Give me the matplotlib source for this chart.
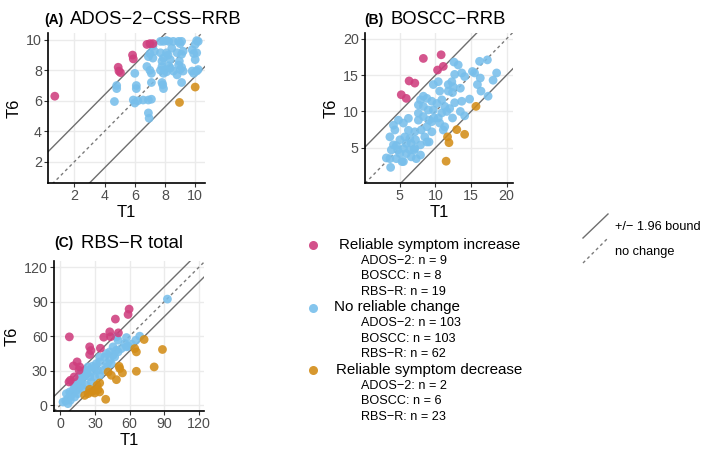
import matplotlib
matplotlib.use("Agg")
import matplotlib.pyplot as plt
from matplotlib.lines import Line2D
import numpy as np

plt.rcParams['font.family'] = ['Liberation Sans', 'DejaVu Sans']

W, H = 709, 449

# colours
col_inc = '#CF3E7E'
col_none = '#78BFEB'
col_dec = '#D38D18'

# ---- (A) ADOS-2-CSS-RRB
a_inc = [(0.7, 6.3), (6.8, 9.7), (7.0, 9.75), (7.2, 9.75), (5.85, 9.0), (5.9, 8.75),
         (4.9, 8.2), (4.95, 7.95), (5.05, 7.85)]
a_dec = [(8.96, 5.89), (10.0, 6.9)]
a_none = [(4.8, 7.0), (4.8, 6.8), (4.65, 5.95),
          (6.0, 7.8), (6.1, 7.0), (6.1, 6.8), (5.9, 6.05), (6.0, 5.85), (6.2, 6.0), (6.55, 6.05),
          (6.9, 6.05), (7.1, 6.1), (6.9, 5.2), (6.95, 4.85),
          (7.1, 7.2), (7.8, 7.2), (7.9, 6.8), (7.85, 7.05), (9.1, 7.2),
          (6.8, 8.25), (7.0, 8.0), (7.1, 7.8), (7.2, 8.8), (7.3, 9.25), (7.0, 9.1), (6.9, 8.9), (7.2, 9.6),
          (7.7, 9.9), (7.9, 9.9), (8.1, 9.95), (8.25, 9.9), (8.55, 9.9), (8.45, 9.45),
          (7.7, 9.15), (7.9, 8.8), (8.1, 9.15), (8.35, 8.7), (8.2, 9.0), (7.8, 8.6),
          (8.0, 8.05), (7.8, 8.25), (8.35, 8.15), (8.55, 7.95), (7.9, 7.8), (8.1, 7.9), (8.25, 8.3), (7.7, 8.0),
          (8.9, 9.9), (9.1, 9.9), (9.0, 9.75), (8.8, 9.15), (9.1, 9.05), (9.2, 9.25), (8.9, 8.35), (9.0, 8.05),
          (9.2, 7.95), (8.8, 7.7), (9.1, 8.2), (8.95, 8.6),
          (9.8, 9.35), (10.1, 9.15), (10.2, 9.9), (10.0, 9.7), (10.0, 8.7), (9.8, 7.95), (10.1, 7.95),
          (10.2, 8.05), (9.9, 7.8), (9.9, 9.1), (10.1, 9.95)]
a_bound = 2.4

# ---- (B) BOSCC-RRB
b_inc = [(8.3, 17.3), (10.8, 17.8), (10.3, 15.7), (11.1, 16.2), (6.3, 14.2), (7.1, 13.9),
         (5.2, 12.3), (5.9, 11.8)]
b_dec = [(15.7, 10.7), (13.0, 7.5), (14.1, 6.85), (11.7, 6.5), (11.9, 5.7), (11.5, 3.15)]
b_none = [(12.6, 16.8), (13.2, 16.4), (16.2, 16.9), (17.3, 17.1), (12.7, 15.1), (13.7, 15.3), (14.1, 14.8),
          (15.2, 15.5), (15.5, 15.3), (16.3, 14.6), (18.6, 15.3), (18.1, 14.3), (12.3, 14.1), (11.8, 13.7),
          (10.4, 14.1), (9.7, 13.7), (12.5, 13.4), (13.5, 13.2), (11.8, 12.8), (12.4, 12.6), (15.9, 13.7),
          (16.4, 12.8), (17.4, 12.1), (10.6, 12.8), (8.3, 12.1), (8.8, 11.8), (7.9, 11.6), (9.5, 11.4),
          (10.9, 11.6), (10.2, 11.1), (11.3, 10.7), (12.0, 10.4), (12.7, 11.2), (13.7, 11.4), (14.8, 11.7),
          (13.5, 10.0), (14.1, 9.4), (12.4, 9.1), (11.6, 10.0), (10.9, 9.8), (9.7, 10.2), (9.0, 10.2),
          (8.3, 10.7), (7.6, 10.9), (7.6, 9.75), (8.3, 9.3), (9.8, 9.1), (9.1, 8.8), (10.4, 9.1), (11.3, 7.9),
          (11.1, 7.45), (7.6, 8.8), (6.2, 9.05), (5.5, 8.4), (4.8, 8.8), (4.1, 8.1), (4.3, 7.45), (3.6, 6.5),
          (4.1, 5.4), (3.6, 3.5), (3.1, 3.6), (3.7, 2.3), (4.5, 3.5), (5.5, 3.1), (5.0, 4.2), (5.5, 4.9),
          (5.9, 5.6), (6.4, 6.3), (6.2, 7.4), (7.1, 7.2), (8.0, 7.45), (8.5, 6.5), (8.8, 5.8), (7.9, 5.4),
          (7.1, 4.9), (6.4, 4.7), (5.9, 4.2), (6.6, 3.75), (7.3, 3.5), (5.3, 3.1), (9.1, 5.8), (8.8, 7.9),
          (9.5, 7.2), (5.7, 6.5), (5.0, 6.1), (4.5, 5.3), (3.8, 4.7), (4.7, 4.7), (7.0, 4.7), (7.9, 4.0),
          (9.5, 8.6), (10.6, 8.4), (6.6, 5.6), (7.2, 6.1)]
b_bound = 5.0

# ---- (C) RBS-R total
c_inc = [(7.8, 59.4), (59.6, 83.6), (58.7, 78.9), (47.7, 74.9), (50.3, 62.9), (42.8, 63.8), (43.5, 59.5),
         (37.6, 59.1), (34.7, 49.5), (25.4, 50.7), (26.5, 47.5), (25.4, 44.0), (14.5, 37.6), (11.3, 34.1),
         (16.8, 33.2), (16.2, 30.3), (8.7, 21.6), (7.5, 20.1), (12.0, 24.5)]
c_dec = [(72.6, 57.1), (64.5, 49.2), (65.9, 46.3), (88.5, 48.4), (81.3, 33.2), (65.9, 29.4), (41.4, 28.8),
         (44.2, 25.9), (50.9, 33.8), (51.5, 31.8), (53.8, 28.0), (48.6, 22.1), (34.1, 19.2), (31.8, 17.2),
         (29.2, 12.8), (29.8, 10.5), (25.4, 13.7), (24.0, 9.9), (21.1, 8.4), (39.3, 5.0), (32.7, 13.4),
         (34.1, 11.4), (26.9, 11.4)]
c_none = [(92.8, 92.3), (68.8, 60.0), (65.4, 56.5), (57.3, 58.8), (55.8, 53.6), (58.7, 51.3), (48.6, 59.4),
          (50.0, 56.5), (45.7, 50.7), (42.8, 46.3), (39.9, 44.9), (38.5, 41.9), (45.7, 43.4), (47.1, 41.9),
          (42.8, 39.0), (40.8, 36.1), (34.1, 37.6), (31.2, 36.1), (27.8, 33.8), (24.0, 33.2), (29.8, 31.8),
          (32.7, 30.3), (26.9, 28.8), (23.1, 27.4), (21.1, 25.1), (19.1, 23.0), (16.8, 24.5), (14.5, 20.1),
          (18.2, 18.6), (15.3, 17.2), (12.4, 15.7), (11.0, 12.8), (8.1, 11.4), (5.2, 9.9), (9.5, 8.4),
          (6.6, 5.5), (4.6, 3.5), (8.7, 4.1), (12.4, 7.0), (15.3, 9.9), (13.9, 12.8), (19.7, 14.3),
          (22.6, 17.2), (26.9, 20.1), (25.4, 24.5), (29.8, 24.5), (34.1, 25.9), (37.0, 30.3), (39.9, 33.2),
          (44.2, 36.1), (50.0, 46.3), (52.9, 49.2), (57.3, 50.7), (61.7, 53.0), (48.6, 47.8), (34.1, 41.9),
          (22.6, 30.3), (18.2, 28.8), (16.8, 15.7), (11.0, 19.2), (2.3, 2.6), (6.6, 1.2)]
c_bound = 13.0

panels = [
    dict(pos=(48, 33, 205, 183), lim_x=(0.25, 10.65), lim_y=(0.6, 10.45), ticks=[2, 4, 6, 8, 10],
         inc=a_inc, none=a_none, dec=a_dec, bound=a_bound, tag='(A)', name='ADOS\u22122\u2212CSS\u2212RRB',
         tag_x=44, name_x=70, title_y=20),
    dict(pos=(365, 33, 513, 183), lim_x=(0.1, 20.9), lim_y=(0.15, 20.8), ticks=[5, 10, 15, 20],
         inc=b_inc, none=b_none, dec=b_dec, bound=b_bound, tag='(B)', name='BOSCC\u2212RRB',
         tag_x=364, name_x=390, title_y=20),
    dict(pos=(54, 261, 204, 411), lim_x=(-5.5, 124.5), lim_y=(-5.2, 125.5), ticks=[0, 30, 60, 90, 120],
         inc=c_inc, none=c_none, dec=c_dec, bound=c_bound, tag='(C)', name='RBS\u2212R total',
         tag_x=54, name_x=81, title_y=243),
]

fig = plt.figure(figsize=(W / 100, H / 100), dpi=100)


def fx(x):
    return x / W


def fy(y):
    return 1 - y / H


for p in panels:
    l, t, r, b = p['pos']
    ax = fig.add_axes([fx(l), fy(b), (r - l) / W, (b - t) / H])
    ax.set_xlim(*p['lim_x'])
    ax.set_ylim(*p['lim_y'])
    ax.set_xticks(p['ticks'])
    ax.set_yticks(p['ticks'])
    ax.grid(True, color='#EBEBEB', lw=1.0, zorder=0)
    ax.set_axisbelow(True)
    for s in ['top', 'right']:
        ax.spines[s].set_visible(False)
    for s in ['left', 'bottom']:
        ax.spines[s].set_linewidth(1.2)
        ax.spines[s].set_color('black')
    ax.tick_params(length=3, width=0.8, color='#333333', labelcolor='#4D4D4D', labelsize=10.3, pad=1.5)

    xs = np.array(p['lim_x'])
    c = p['bound']
    ax.plot(xs, xs + c, color='#6E6E6E', lw=1.0, zorder=2)
    ax.plot(xs, xs - c, color='#6E6E6E', lw=1.0, zorder=2)
    ax.plot(xs, xs, color='#7A7A7A', lw=1.0, ls=(0, (2.2, 2.2)), zorder=2)

    for pts, col in [(p['none'], col_none), (p['inc'], col_inc), (p['dec'], col_dec)]:
        arr = np.array(pts)
        ax.scatter(arr[:, 0], arr[:, 1], s=40, color=col, alpha=0.88, edgecolors='none', zorder=3)

    ax.set_xlabel('T1', fontsize=12, labelpad=1)
    ax.set_ylabel('T6', fontsize=12, labelpad=3)

    fig.text(fx(p['tag_x']), fy(p['title_y']), p['tag'], fontsize=10, fontweight='bold', va='center')
    fig.text(fx(p['name_x']), fy(p['title_y']), p['name'], fontsize=13.3, va='center')

# ---- legend for point groups
leg_groups = ['Reliable symptom increase', 'No reliable change', 'Reliable symptom decrease']
leg_colors = [col_inc, col_none, col_dec]
leg_counts = [['ADOS\u22122: n = 9', 'BOSCC: n = 8', 'RBS\u2212R: n = 19'],
              ['ADOS\u22122: n = 103', 'BOSCC: n = 103', 'RBS\u2212R: n = 62'],
              ['ADOS\u22122: n = 2', 'BOSCC: n = 6', 'RBS\u2212R: n = 23']]
leg_y = [245, 307.5, 370]
leg_x = [339, 334, 336]

for g, colr, cnts, y0, x0 in zip(leg_groups, leg_colors, leg_counts, leg_y, leg_x):
    fig.add_artist(Line2D([fx(313)], [fy(y0)], marker='o', markersize=6.5, color=colr, alpha=0.9,
                          markeredgewidth=0, transform=fig.transFigure))
    fig.text(fx(x0), fy(y0), g, fontsize=10.9, va='center')
    for i, s in enumerate(cnts):
        fig.text(fx(361), fy(y0 + 16 + 15.3 * i), s, fontsize=9.1, va='center')

# ---- legend for lines
fig.add_artist(Line2D([fx(583), fx(608)], [fy(238), fy(214)], color='#6E6E6E', lw=1.0,
                      transform=fig.transFigure))
fig.add_artist(Line2D([fx(583), fx(607)], [fy(263), fy(239)], color='#7A7A7A', lw=1.0, ls=(0, (2.2, 2.2)),
                      transform=fig.transFigure))
fig.text(fx(615), fy(227), '+/\u2212 1.96 bound', fontsize=9.2, va='center')
fig.text(fx(615), fy(252), 'no change', fontsize=9.2, va='center')

fig.savefig('out.png', dpi=100, facecolor='white')
